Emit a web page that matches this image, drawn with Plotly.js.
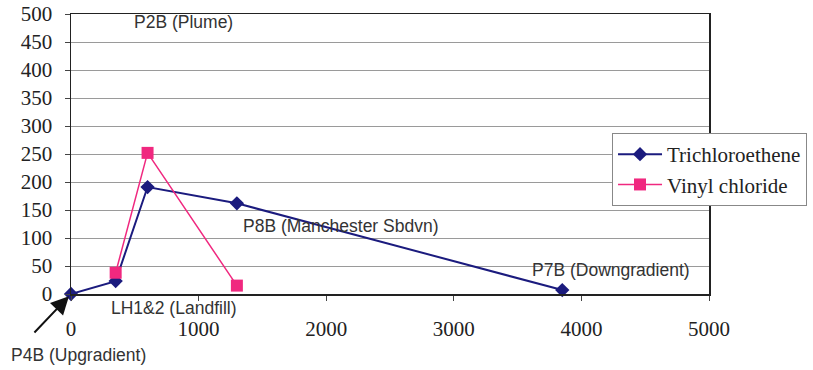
<!DOCTYPE html>
<html>
<head>
<meta charset="utf-8">
<script src="https://cdn.plot.ly/plotly-3.0.1.min.js"></script>
<style>
  html, body { margin: 0; padding: 0; background: #ffffff; }
  #chart { width: 813px; height: 370px; }
</style>
</head>
<body>
<div id="chart"></div>
<script>
// Distance along the flow path (ft) and concentrations at each well
const tceDistance = [0, 350, 600, 1300, 3850];
const tceValues = [0, 23, 191, 162, 7];
const vcDistance = [350, 600, 1300];
const vcValues = [38, 252, 15];

const xTicks = [0, 1000, 2000, 3000, 4000, 5000];
const yTicks = [0, 50, 100, 150, 200, 250, 300, 350, 400, 450, 500];

const wellLabels = ['P2B (Plume)', 'P8B (Manchester Sbdvn)', 'LH1&2 (Landfill)', 'P7B (Downgradient)', 'P4B (Upgradient)'];

const serif = "Liberation Serif";
const sans = "Liberation Sans";

// Tick labels set in the serif face
const serifLabel = v => '<span style="font-family:Liberation Serif">' + v + '</span>';

const traces = [
  {
    x: tceDistance, y: tceValues, name: 'Trichloroethene',
    type: 'scatter', mode: 'lines+markers', cliponaxis: false,
    line: { color: '#1b1b7e', width: 2 },
    marker: { symbol: 'diamond', size: 11, color: '#1b1b7e' }
  },
  {
    x: vcDistance, y: vcValues, name: 'Vinyl chloride',
    type: 'scatter', mode: 'lines+markers', cliponaxis: false,
    line: { color: '#f0287f', width: 1.5 },
    marker: { symbol: 'square', size: 12, color: '#f0287f' }
  }
];

const labelFont = { family: sans, size: 17.5, color: '#333333' };
const serifFont = { family: serif, size: 21, color: '#222222' };

const layout = {
  width: 813, height: 370,
  font: serifFont,
  margin: { l: 71, r: 104, t: 14, b: 76, autoexpand: false },
  paper_bgcolor: '#ffffff', plot_bgcolor: '#ffffff',
  showlegend: true,
  legend: {
    x: 0.848, y: 0.575, xanchor: 'left', yanchor: 'top',
    bgcolor: '#ffffff', bordercolor: '#888888', borderwidth: 1,
    font: serifFont,
    itemwidth: 44, tracegroupgap: 2
  },
  xaxis: {
    range: [0, 5000], tickmode: 'array', tickvals: xTicks, ticktext: xTicks.map(serifLabel),
    showgrid: false, zeroline: false,
    showline: true, linecolor: '#222222', linewidth: 1.5, mirror: true,
    ticks: 'outside', ticklen: 5, tickcolor: '#444444',
    ticklabelstandoff: 10,
    tickfont: serifFont
  },
  yaxis: {
    range: [0, 500], tickmode: 'array', tickvals: yTicks, ticktext: yTicks.map(serifLabel),
    showgrid: true, gridcolor: '#9a9a9a', gridwidth: 1, zeroline: false,
    showline: true, linecolor: '#222222', linewidth: 1.5, mirror: true,
    ticks: 'outside', ticklen: 5, tickcolor: '#444444',
    ticklabelstandoff: 8,
    tickfont: serifFont
  },
  annotations: [
    { x: 878, y: 486, xref: 'x', yref: 'y', xanchor: 'center', yanchor: 'middle',
      text: wellLabels[0], showarrow: false, font: labelFont },
    { x: 2116, y: 121, xref: 'x', yref: 'y', xanchor: 'center', yanchor: 'middle',
      text: wellLabels[1], showarrow: false, font: labelFont },
    { x: 800, y: -0.05, xref: 'x', yref: 'paper', xanchor: 'center', yanchor: 'middle',
      text: wellLabels[2], showarrow: false, font: labelFont },
    { x: 4232, y: 43, xref: 'x', yref: 'y', xanchor: 'center', yanchor: 'middle',
      text: wellLabels[3], showarrow: false, font: labelFont },
    { x: 0, y: 0, xref: 'x', yref: 'y', text: '', showarrow: true,
      ax: -38, ay: 40, arrowhead: 2, arrowsize: 1.8, arrowwidth: 2, arrowcolor: '#111111', standoff: 3 },
    { x: 0.0125, y: -0.218, xref: 'paper', yref: 'paper', xanchor: 'center', yanchor: 'middle',
      text: wellLabels[4], showarrow: false, font: labelFont }
  ]
};

Plotly.newPlot('chart', traces, layout, { displayModeBar: false, staticPlot: true });
</script>
</body>
</html>
